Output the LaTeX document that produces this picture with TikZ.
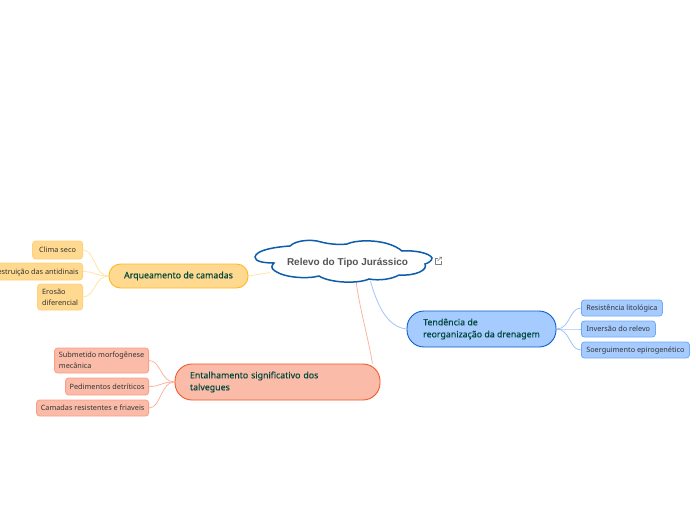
\documentclass[tikz,border=0pt]{standalone}
\usepackage{fontspec}
\usetikzlibrary{backgrounds}
\setmainfont{Noto Sans}
\newfontfamily\titlefont{Liberation Sans}
\newfontfamily\headfont[FakeBold=0.25]{Noto Sans}
\definecolor{ylF}{HTML}{FFD98F}\definecolor{ylS}{HTML}{FFB81F}\definecolor{ylL}{HTML}{FFD27A}\definecolor{ylE}{HTML}{FFE4A8}
\definecolor{rdF}{HTML}{FABBA8}\definecolor{rdS}{HTML}{F2592A}\definecolor{rdL}{HTML}{FA9E85}\definecolor{rdE}{HTML}{FBB5A0}
\definecolor{blF}{HTML}{A6CBFF}\definecolor{blS}{HTML}{0A5FC9}\definecolor{blL}{HTML}{72A9F5}\definecolor{blE}{HTML}{A0C4F8}
\definecolor{mainT}{HTML}{01473C}\definecolor{leafT}{HTML}{333333}\definecolor{cloudS}{HTML}{0F5CAB}\definecolor{rootT}{HTML}{555555}
\tikzset{
  mainbox/.style={draw,line width=0.9pt,rounded corners=11.5pt,font=\headfont\fontsize{8.8}{12}\selectfont,text=mainT,align=left,inner xsep=0pt,inner ysep=0pt},
  leafbox/.style={draw,line width=0.8pt,rounded corners=3pt,font=\fontsize{7.3}{11}\selectfont,text=leafT,align=left,inner xsep=2pt,inner ysep=0pt,anchor=east,text depth=0pt},
  linkline/.style={line width=0.8pt},
}
\begin{document}
\begin{tikzpicture}[x=1pt,y=-1pt]
\useasboundingbox (0,0) rectangle (696,520);
% nodes
\node[inner sep=0pt,minimum width=150pt,minimum height=38pt] (root) at (345,262) {};
\node[mainbox,fill=ylF,draw=ylS,minimum width=139pt,minimum height=24pt,align=center] (arq) at (178.5,276) {Arqueamento de camadas};
\node[mainbox,fill=blF,draw=blS,minimum width=149pt,minimum height=36pt,rounded corners=17pt] (ten) at (481.5,329) {Tendência de\\reorganização da drenagem};
\node[mainbox,fill=rdF,draw=rdS,minimum width=205pt,minimum height=36pt,rounded corners=17pt,text width=175pt] (ent) at (277.5,382) {Entalhamento significativo dos\\talvegues};
\node[leafbox,fill=ylF,draw=ylL,minimum height=18pt,minimum width=50pt] (cli) at (83,250) {Clima seco};
\node[leafbox,fill=ylF,draw=ylL,minimum height=17pt,inner xsep=4pt] (des) at (83,271.5) {Destruição das antidinais};
\node[leafbox,fill=ylF,draw=ylL,minimum height=26pt,minimum width=45pt] (ero) at (83,297) {Erosão\\diferencial};
\node[leafbox,fill=rdF,draw=rdL,minimum height=25pt,minimum width=94pt] (sub) at (149,360.5) {Submetido morfogênese\\mecânica};
\node[leafbox,fill=rdF,draw=rdL,minimum height=17pt,minimum width=83pt] (ped) at (149,386.5) {Pedimentos detríticos};
\node[leafbox,fill=rdF,draw=rdL,minimum height=16pt,minimum width=112pt] (cam) at (149,408) {Camadas resistentes e friaveis};
\node[leafbox,fill=blF,draw=blL,minimum height=16pt,minimum width=81pt,anchor=west] (res) at (581,308) {Resistência litológica};
\node[leafbox,fill=blF,draw=blL,minimum height=16pt,minimum width=74pt,anchor=west] (inv) at (581,329) {Inversão do relevo};
\node[leafbox,fill=blF,draw=blL,minimum height=16pt,minimum width=108pt,anchor=west] (soe) at (581,350) {Soerguimento epirogenético};
% connectors
\begin{scope}[on background layer]
\draw[linkline,draw=ylE] (root.188) -- (arq.east);
\draw[linkline,draw=rdE] (root.-60) .. controls +(3,25) and +(-4,-25) .. (ent.11.4);
\draw[linkline,draw=blE] (root.-37) .. controls +(8,28) and +(-18,-2) .. (ten.west);
\foreach \c in {cli,des,ero}{\draw[linkline,draw=ylE] (arq.west) .. controls +(-14,0) and +(12,0) .. (\c.east);}
\foreach \c in {sub,ped,cam}{\draw[linkline,draw=rdE] (ent.west) .. controls +(-14,0) and +(12,0) .. (\c.east);}
\foreach \c in {res,inv,soe}{\draw[linkline,draw=blE] (ten.east) .. controls +(14,0) and +(-12,0) .. (\c.west);}
\end{scope}
% cloud
\draw[line width=1.5pt,draw=cloudS,fill=white]
 (255,257) .. controls (256,250) and (275,247) .. (290,246)
 .. controls (296,240) and (312,239) .. (321,242)
 .. controls (329,244) and (338,245) .. (347,244)
 .. controls (358,239) and (388,239) .. (402,251)
 .. controls (414,250) and (430,253) .. (432,258)
 .. controls (432,261) and (428,263) .. (425,264)
 .. controls (428,270) and (416,276) .. (399,275)
 .. controls (392,279) and (380,281) .. (369,279)
 .. controls (358,284) and (330,283) .. (319,276)
 .. controls (308,279) and (285,278) .. (275,271)
 .. controls (270,268) and (272,265) .. (274,263)
 .. controls (262,263) and (255,261) .. (255,257) -- cycle;
\node[font=\titlefont\bfseries\fontsize{10}{11}\selectfont,text=rootT,inner sep=0pt] (rootlabel) at (347.5,262.5) {Relevo do Tipo Jurássico};
% external link icon
\draw[line width=0.5pt,draw=gray,line join=round] (437.5,258) -- (435,258) -- (435,264) -- (441,264) -- (441,261);
\draw[line width=0.5pt,draw=gray] (437.5,261) -- (441.5,257) (439,257) -- (441.5,257) -- (441.5,259.5);
\end{tikzpicture}
\end{document}
